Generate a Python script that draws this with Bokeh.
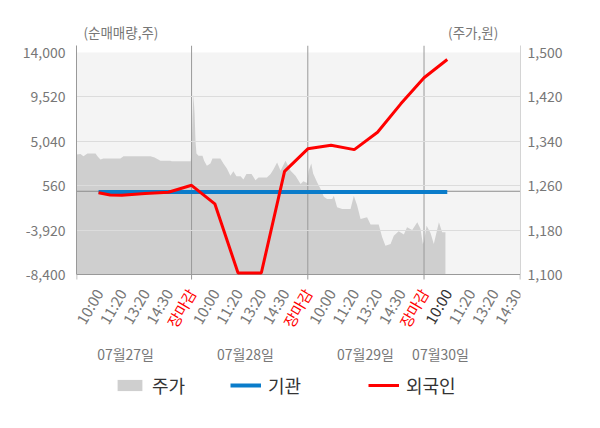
import math
from bokeh.plotting import figure
from bokeh.layouts import column
from bokeh.models import (Range1d, LinearAxis, FixedTicker, NumeralTickFormatter, Span,
                          BoxAnnotation, Label, LabelSet, Legend, LegendItem, ColumnDataSource)
from bokeh.core.properties import value
from bokeh.embed import file_html
from bokeh.resources import INLINE

# ---------------- data ----------------
slot_labels = ["10:00", "11:20", "13:20", "14:30", "장마감"] * 3 + ["10:00", "11:20", "13:20", "14:30"]
slot_colors = ["#777777"] * 4 + ["#ff0000"] + ["#777777"] * 4 + ["#ff0000"] + ["#777777"] * 4 + ["#ff0000"] \
    + ["#333333"] + ["#777777"] * 3
slot_pos = list(range(1, 20))
day_labels = ["07월27일", "07월28일", "07월29일", "07월30일"]
day_label_pos = [2.16, 7.32, 12.48, 15.71]
day_bounds = [5, 10, 15]

left_ticks = [-8400, -3920, 560, 5040, 9520, 14000]
right_ticks = [1100, 1180, 1260, 1340, 1420, 1500]

flow_x = [1, 1.5, 2, 3, 4, 5, 6, 7, 8, 9, 10, 11, 12, 13, 14, 15, 16]
foreign = [-150, -380, -400, -230, -100, 600, -1270, -8250, -8250, 2000, 4280, 4650,
           4200, 5960, 8820, 11450, 13290]
inst_x = list(range(1, 17))
institution = [-80] * 16

price_x = [0.05, 0.22, 0.35, 0.52, 0.87, 0.95, 1.08, 1.21, 1.94, 2.07, 3.23, 3.41, 3.66, 4.09, 4.14, 4.96,
           5.0, 5.04, 5.08, 5.13, 5.17, 5.21, 5.30, 5.47, 5.54, 5.66, 5.81, 5.90, 6.24, 6.37, 6.52, 6.67,
           6.80, 6.93, 7.11, 7.23, 7.36, 7.58, 7.75, 7.88, 8.24, 8.40, 8.52, 8.68, 8.83, 9.04, 9.26, 9.47,
           9.69, 9.81, 9.97,
           10.04, 10.15, 10.23, 10.40, 10.55, 10.69, 10.83, 11.05, 11.12, 11.26, 11.48, 11.84, 11.98, 12.12,
           12.27, 12.55, 12.70, 13.05, 13.20, 13.34, 13.56, 13.70, 13.91, 14.13, 14.27, 14.49, 14.71, 14.85,
           14.95,
           15.0, 15.11, 15.28, 15.42, 15.64, 15.78, 15.92]
price = [1316, 1317, 1313, 1318, 1318, 1313, 1307, 1309, 1309, 1313, 1313, 1311, 1305, 1305, 1304, 1304,
         1320, 1380, 1425, 1390, 1340, 1318, 1314, 1314, 1305, 1296, 1300, 1309, 1309, 1300, 1291, 1278,
         1286, 1277, 1277, 1271, 1281, 1281, 1270, 1275, 1275, 1281, 1289, 1302, 1287, 1305, 1287, 1278,
         1263, 1268, 1265,
         1287, 1300, 1282, 1266, 1254, 1240, 1236, 1236, 1242, 1221, 1218, 1218, 1242, 1225,
         1200, 1203, 1190, 1190, 1167, 1152, 1155, 1170, 1178, 1172, 1185, 1180, 1194, 1182,
         1155,
         1160, 1188, 1175, 1155, 1194, 1176, 1176]
price_base = [1100] * len(price)

FONT = "Noto Sans CJK KR"
GRAY = "#777777"

# ---------------- geometry (layout only) ----------------
X0, X1 = 0.05, 19.15               # x range of the data frame
L_MIN, L_MAX = -8400, 14000        # left axis data extent
R_MIN, R_MAX = 1100, 1500          # right axis data extent
PLOT_PX = 222                      # pixel height of the data extent
TOP_PAD, BOT_PAD = 7, 154          # frame pixels above / below the data extent
lpp = (L_MAX - L_MIN) / PLOT_PX
rpp = (R_MAX - R_MIN) / PLOT_PX
left_top = L_MAX + TOP_PAD * lpp
left_bot = L_MIN - BOT_PAD * lpp
right_top = R_MAX + TOP_PAD * rpp
right_bot = R_MIN - BOT_PAD * rpp
HEAD_H = 41

# ---------------- header strip with unit captions ----------------
head = figure(width=600, height=HEAD_H, x_range=Range1d(0, 600), y_range=Range1d(0, HEAD_H),
              output_backend="svg", toolbar_location=None, min_border=0,
              x_axis_location=None, y_axis_location=None, outline_line_color=None,
              background_fill_color="white", border_fill_color="white")
head.xgrid.visible = False
head.ygrid.visible = False
head.add_layout(Label(x=60, y=9.5, text="(순매매량,주)", text_align="center", text_baseline="middle",
                      text_color=GRAY, text_font=FONT, text_font_size="13.5px"))
head.add_layout(Label(x=536, y=9.5, text="(주가,원)", text_align="center", text_baseline="middle",
                      text_color=GRAY, text_font=FONT, text_font_size="13.5px"))

# ---------------- main chart ----------------
p = figure(width=600, height=428 - HEAD_H, frame_width=444, frame_height=383,
           x_range=Range1d(X0, X1), y_range=Range1d(left_bot, left_top),
           output_backend="svg", toolbar_location=None, x_axis_location=None,
           min_border_left=76, min_border_right=80, min_border_top=45 - HEAD_H, min_border_bottom=0,
           background_fill_color="white", border_fill_color="white", outline_line_color=None)
p.extra_y_ranges = {"price": Range1d(right_bot, right_top)}

p.add_layout(BoxAnnotation(bottom=L_MIN, top=L_MAX, fill_color="#f4f4f4", fill_alpha=1.0,
                           line_color=None, level="image"))

area = p.varea(x=price_x, y1=price_base, y2=price, fill_color="#cfcfcf", fill_alpha=1.0,
               y_range_name="price", level="underlay")

# day separators
p.segment(x0=day_bounds, y0=[L_MIN] * len(day_bounds), x1=day_bounds, y1=[left_top] * len(day_bounds),
          line_color="#999999", line_width=1, level="underlay")

p.xgrid.visible = False
p.ygrid.ticker = FixedTicker(ticks=[9520, 5040, 560, -3920])
p.ygrid.grid_line_color = "#dcdcdc"
p.ygrid.grid_line_width = 1

p.add_layout(Span(location=0, dimension="width", line_color="#8c8c8c", line_width=1, level="underlay"))
# bottom axis line and its day ticks
p.add_layout(Span(location=L_MIN, dimension="width", line_color="#999999", line_width=1, level="underlay"))
tick_x = [X0 + 0.01] + day_bounds + [X1 - 0.01]
p.segment(x0=tick_x, y0=[L_MIN] * len(tick_x), x1=tick_x, y1=[L_MIN - 5 * lpp] * len(tick_x),
          line_color="#999999", line_width=1)

inst = p.line(inst_x, institution, line_color="#0a7cca", line_width=4)
fore = p.line(flow_x, foreign, line_color="#ff0000", line_width=3)

# left axis
ya = p.yaxis[0]
ya.ticker = FixedTicker(ticks=left_ticks)
ya.formatter = NumeralTickFormatter(format="0,0")
ya.bounds = (L_MIN, left_top)
ya.major_tick_out = 0
ya.major_tick_in = 0
ya.minor_tick_line_color = None
ya.axis_line_color = "#999999"
ya.major_label_standoff = 11
ya.major_label_text_font = FONT
ya.major_label_text_font_size = "14px"
ya.major_label_text_color = GRAY

# right axis
ra = LinearAxis(y_range_name="price", ticker=FixedTicker(ticks=right_ticks),
                formatter=NumeralTickFormatter(format="0,0"), bounds=(R_MIN, right_top))
ra.major_tick_out = 0
ra.major_tick_in = 0
ra.minor_tick_line_color = None
ra.axis_line_color = "#d4d4d4"
ra.major_label_standoff = 7
ra.major_label_text_font = FONT
ra.major_label_text_font_size = "14px"
ra.major_label_text_color = GRAY
p.add_layout(ra, "right")

# time labels under the data area
tsrc = ColumnDataSource(dict(x=slot_pos, y=[L_MIN] * len(slot_pos), text=slot_labels, color=slot_colors))
p.add_layout(LabelSet(x="x", y="y", text="text", source=tsrc, y_offset=-15.5,
                      angle=math.radians(60), text_align="right", text_baseline="middle",
                      text_color="color", text_font=value(FONT), text_font_size="15px"))

dsrc = ColumnDataSource(dict(x=day_label_pos, y=[L_MIN] * len(day_label_pos), text=day_labels))
p.add_layout(LabelSet(x="x", y="y", text="text", source=dsrc, y_offset=-79,
                      text_align="center", text_baseline="middle", text_color=GRAY,
                      text_font=value(FONT), text_font_size="14px"))

# legends
for rend, lab, xloc in [(area, "주가", 38), (inst, "기관", 154), (fore, "외국인", 292)]:
    lg = Legend(items=[LegendItem(label=lab, renderers=[rend])], location=(xloc, 30),
                orientation="horizontal", background_fill_alpha=0, border_line_color=None,
                padding=0, margin=0, spacing=0, glyph_width=31, glyph_height=14, label_height=22,
                label_standoff=7, label_text_font=FONT, label_text_font_size="18px",
                label_text_color="#333333")
    p.add_layout(lg)

layout = column(head, p, spacing=0)
open("out.html", "w").write(file_html(layout, INLINE))
